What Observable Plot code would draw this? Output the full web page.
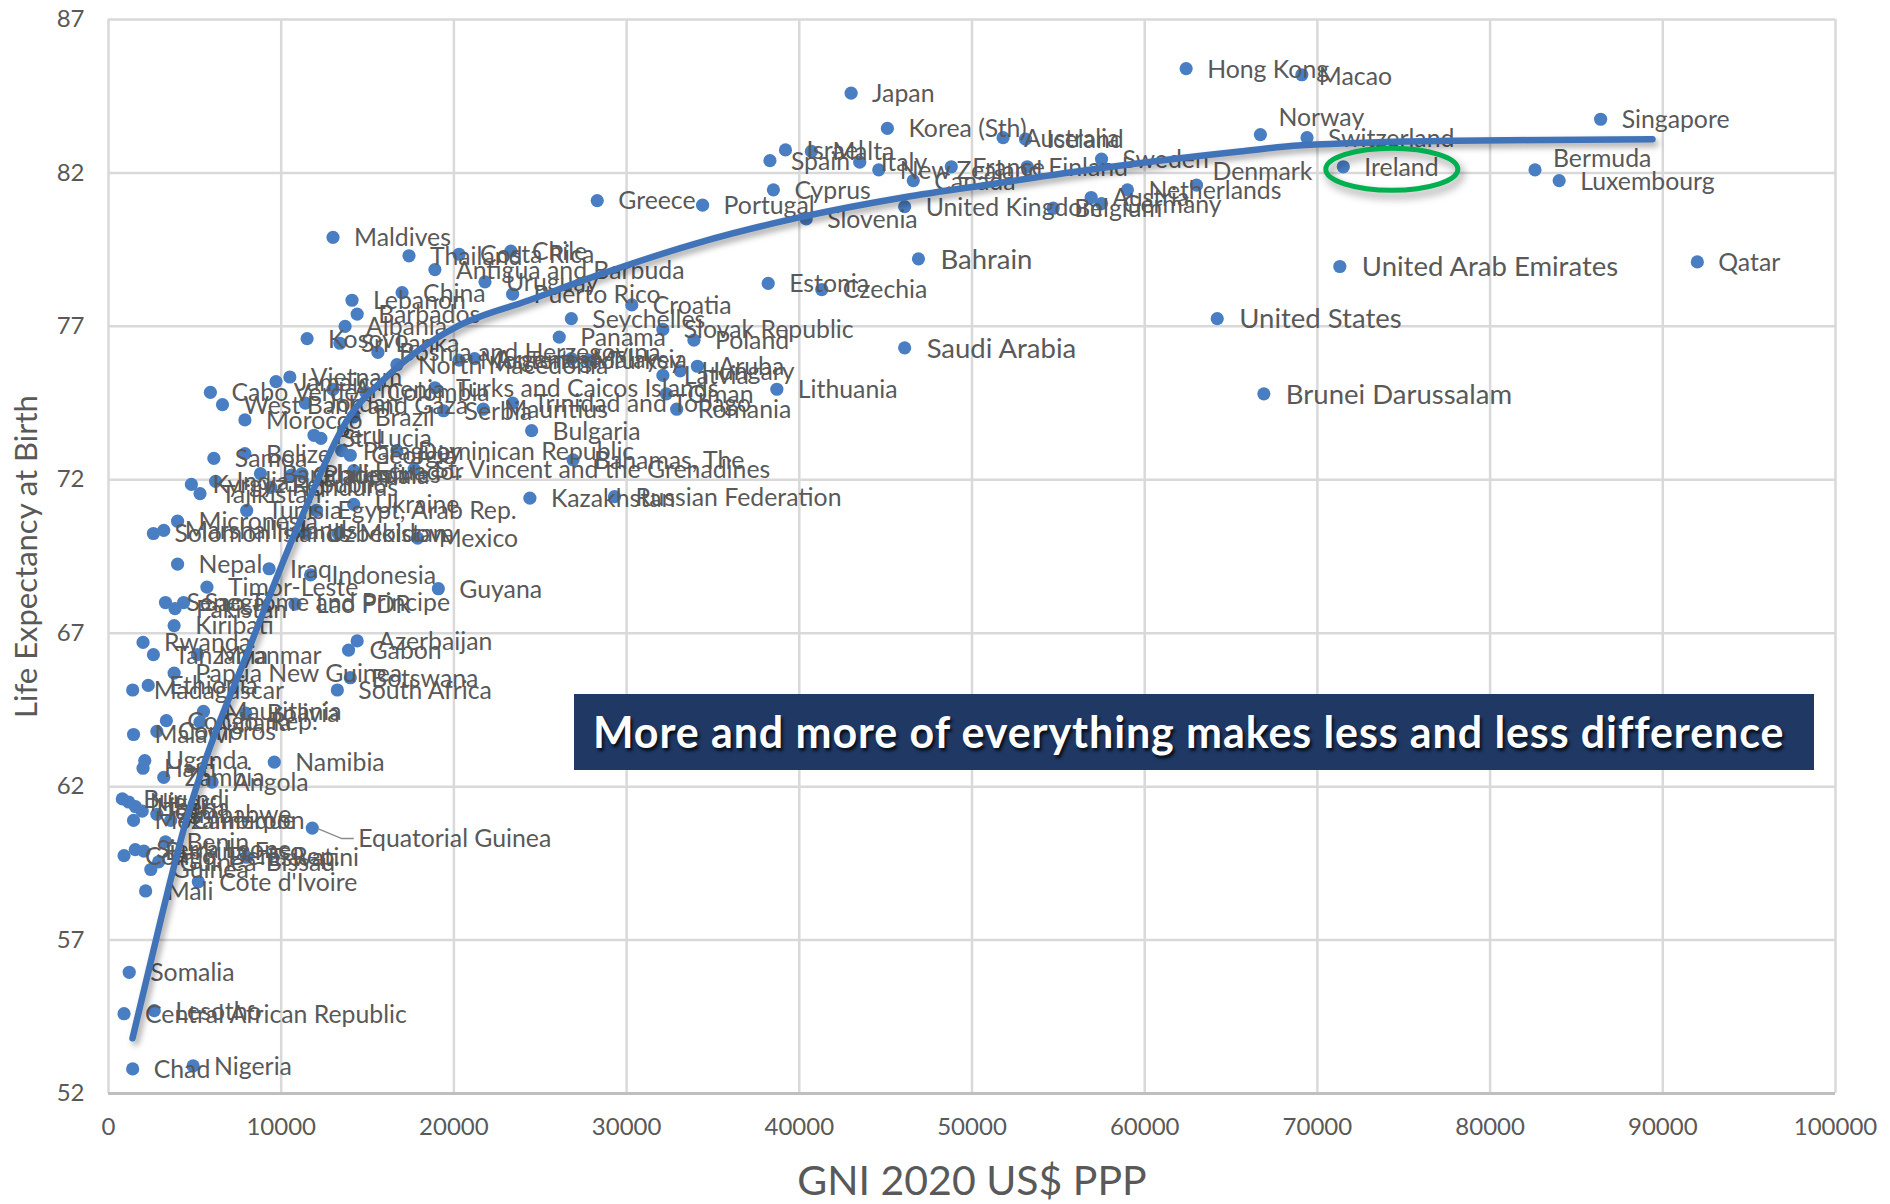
<!DOCTYPE html>
<html><head><meta charset="utf-8">
<script src="https://cdn.jsdelivr.net/npm/d3@7"></script>
<script src="https://cdn.jsdelivr.net/npm/@observablehq/plot@0.6"></script>
<style>
 body{margin:0;background:#fff;}
 #wrap{position:relative;width:1890px;height:1204px;overflow:hidden;}
 #wrap svg g[aria-label="line"]{filter:drop-shadow(3px 4px 3px rgba(0,0,0,0.35));}
 #note{position:absolute;left:574px;top:694px;width:1240px;height:76px;background:#1f3864;color:#fff;font-family:Lato,"Open Sans",sans-serif;font-weight:700;font-size:43px;letter-spacing:0.9px;line-height:76px;padding-left:19px;box-sizing:border-box;text-shadow:2px 3px 3px rgba(0,0,0,0.75);white-space:nowrap;}
</style></head>
<body><div id="wrap"></div>
<script>
const countries = ["Japan","Korea (Sth)","Australia","Iceland","Israel","Malta","Spain","Italy","New Zealand","Canada","France","Finland","Sweden","Cyprus","Portugal","Greece","Slovenia","United Kingdom","Belgium","Austria","Germany","Netherlands","Denmark","Hong Kong","Macao","Norway","Switzerland","Ireland","Singapore","Bermuda","Luxembourg","United Arab Emirates","Qatar","United States","Brunei Darussalam","Bahrain","Estonia","Czechia","Saudi Arabia","Slovak Republic","Poland","Croatia","Seychelles","Panama","Aruba","Hungary","Latvia","Lithuania","Oman","Romania","Puerto Rico","Uruguay","Antigua and Barbuda","Thailand","Costa Rica","Chile","China","Maldives","Lebanon","Barbados","Albania","Kosovo","Sri Lanka","Bosnia and Herzegovina","North Macedonia","Montenegro","Argentina","Malaysia","Turkey","Turks and Caicos Islands","Serbia","Mauritius","Trinidad and Tobago","Bulgaria","Kazakhstan","Russian Federation","Bahamas, The","Dominican Republic","St. Vincent and the Grenadines","Cabo Verde","West Bank and Gaza","Morocco","Jamaica","Vietnam","Jordan","Colombia","Armenia","Brazil","St. Lucia","Peru","Paraguay","Belize","Samoa","Georgia","Ecuador","India","Kyrgyz Republic","Tajikistan","Bangladesh","Honduras","Guatemala","Philippines","Tunisia","Egypt, Arab Rep.","Ukraine","Moldova","Mexico","Solomon Islands","Marshall Islands","Micronesia","Uzbekistan","Nepal","Iraq","Indonesia","Guyana","Timor-Leste","Senegal","Sao Tome and Principe","Lao PDR","Pakistan","Kiribati","Rwanda","Tanzania","Myanmar","Papua New Guinea","Azerbaijan","Gabon","Botswana","South Africa","Madagascar","Ethiopia","Malawi","Comoros","Congo, Rep.","Mauritania","Ghana","Bolivia","Uganda","Haiti","Zambia","Namibia","Angola","Burundi","Niger","Liberia","Togo","Zimbabwe","Mozambique","Cameroon","Equatorial Guinea","Benin","Guinea-Bissau","Congo, Dem. Rep.","Sierra Leone","Burkina Faso","Eswatini","Guinea","Cote d'Ivoire","Mali","Somalia","Lesotho","Central African Republic","Chad","Nigeria"];
const gni = [43000,45100,51800,53100,39200,40700,38300,43500,44600,46600,48800,53200,57500,38500,34400,28300,40400,46100,54700,56900,57500,59000,63000,62400,69100,66700,69400,71500,86400,82600,84000,71300,92000,64200,66900,46900,38200,41300,46100,32100,33900,30300,26800,26100,34100,33100,32100,38700,32300,32900,23400,21800,18900,17400,20300,23300,17000,13000,14100,14400,13700,11500,13400,15600,16700,20300,21200,26800,27800,18900,19400,21700,23400,24500,24400,29300,26900,16700,17700,5900,6600,7900,9700,10500,11400,14900,13000,14200,12300,11900,13500,7900,6100,14000,14200,6200,4800,5300,8800,9400,10600,11200,8000,12050,14200,13300,17900,2600,3200,4000,11400,4000,9300,11700,19100,5700,3300,4350,10800,3850,3800,2000,2600,5150,3800,14400,13900,14000,13250,1400,2300,1450,2800,3350,5500,5300,7950,2100,2000,3200,9600,6000,800,1170,1560,1950,2800,1450,3600,11800,3300,2900,900,1550,2050,8000,2450,5200,2150,1200,2650,900,1400,4900];
const lifeExp = [84.6,83.45,83.15,83.1,82.75,82.7,82.4,82.35,82.1,81.75,82.2,82.2,82.45,81.45,80.95,81.1,80.5,80.9,80.85,81.2,81.0,81.45,81.6,85.4,85.2,83.25,83.15,82.2,83.75,82.1,81.75,78.95,79.1,77.25,74.8,79.2,78.4,78.2,76.3,76.9,76.55,77.7,77.25,76.65,75.7,75.55,75.4,74.95,74.8,74.3,78.05,78.45,78.85,79.3,79.35,79.45,78.1,79.9,77.85,77.4,77.0,76.6,76.45,76.15,75.75,75.9,75.95,75.95,75.9,75.0,74.25,74.3,74.5,73.6,71.4,71.45,72.65,72.95,72.35,74.85,74.45,73.95,75.2,75.35,74.5,74.85,74.95,74.05,73.35,73.45,72.95,72.85,72.7,72.8,72.3,71.95,71.85,71.55,72.2,71.75,72.15,72.2,71.0,71.0,71.2,70.25,70.1,70.25,70.35,70.65,70.25,69.25,69.1,68.9,68.45,68.5,68.0,68.0,67.95,67.8,67.25,66.7,66.3,66.3,65.7,66.75,66.45,65.55,65.15,65.15,65.3,63.7,63.8,64.15,64.45,64.1,64.4,62.85,62.6,62.3,62.8,62.15,61.6,61.5,61.35,61.2,61.1,60.9,60.9,60.65,60.2,59.55,59.75,59.95,59.9,59.7,59.3,58.9,58.6,55.95,54.7,54.6,52.8,52.9];

// Trendline
const trendGNI = [1390,3000,4500,5330,8000,11120,14000,16000,18150,20200,24350,28500,34000,40000,46000,51300,57400,65500,69100,78000,89400];
const trendLE  = [53.8,57.6,60.9,62.4,66.3,70.7,74.1,75.3,76.3,77.0,77.85,78.7,79.7,80.55,81.2,81.65,82.15,82.7,82.9,83.05,83.1];

const xTicks = [0,10000,20000,30000,40000,50000,60000,70000,80000,90000,100000];
const yTicks = [52,57,62,67,72,77,82,87];
const xTitle = "GNI 2020 US$ PPP";
const yTitle = "Life Expectancy at Birth";
const noteText = "More and more of everything makes less and less difference";
const highlight = "Ireland";

const data = countries.map((c, i) => ({name: c, gni: gni[i], le: lifeExp[i]}));
const trend = trendGNI.map((g, i) => ({gni: g, le: trendLE[i]}));

// label placement exceptions (px offsets)
const labelOffsets = {"Norway": [18, -17], "Denmark": [16, -13], "Bermuda": [18, -11], "Macao": [17, 2], "Equatorial Guinea": [46, 11]};
// labels that appear in a larger type in the reference
const bigLabels = ["Saudi Arabia", "Bahrain", "United Arab Emirates", "United States", "Brunei Darussalam"];
const normal = data.filter(d => !(d.name in labelOffsets) && !bigLabels.includes(d.name));
const big = data.filter(d => bigLabels.includes(d.name));

const textColor = "#595959";
const dotColor = "#4a7ec2";
const labelFont = 24.8;

const specialLabels = Object.entries(labelOffsets).map(([n, [dx, dy]]) =>
  Plot.text(data.filter(d => d.name === n), {x: "gni", y: "le", text: "name", dx, dy, textAnchor: "start", fill: textColor, fontSize: labelFont}));

const hi = data.find(d => d.name === highlight);
const eg = data.find(d => d.name === "Equatorial Guinea");

function extras(index, scales) {
  const g = d3.create("svg:g");
  const ex = scales.x(eg.gni), ey = scales.y(eg.le);
  g.append("path").attr("d", `M${ex + 6},${ey + 1} L${ex + 30},${ey + 11} L${ex + 42},${ey + 11}`)
    .attr("fill", "none").attr("stroke", "#8c8c8c").attr("stroke-width", 1.5);
  const ix = scales.x(hi.gni), iy = scales.y(hi.le);
  g.append("ellipse").attr("cx", ix + 49).attr("cy", iy + 3).attr("rx", 66).attr("ry", 21)
    .attr("fill", "none").attr("stroke", "#00b050").attr("stroke-width", 5)
    .style("filter", "drop-shadow(3px 5px 4px rgba(0,0,0,0.4))");
  return g.node();
}

const chart = Plot.plot({
  width: 1890,
  height: 1204,
  marginLeft: 108,
  marginRight: 55,
  marginTop: 19,
  marginBottom: 111,
  x: {domain: [0, 100000], ticks: xTicks, tickFormat: d => String(d), tickSize: 0, tickPadding: 24, label: null},
  y: {domain: [52, 87], ticks: yTicks, tickSize: 0, tickPadding: 24, label: null},
  style: {fontFamily: "Lato, 'Open Sans', sans-serif", fontSize: "24px", color: textColor, background: "#fff", overflow: "visible"},
  marks: [
    Plot.ruleX(xTicks, {stroke: "#d9d9d9", strokeWidth: 2.5}),
    Plot.ruleY(yTicks, {stroke: "#d9d9d9", strokeWidth: 2.5}),
    Plot.ruleY([52], {stroke: "#bfbfbf", strokeWidth: 3}),
    Plot.dot(data, {x: "gni", y: "le", r: 6.6, fill: dotColor, stroke: "none"}),
    Plot.text(normal, {x: "gni", y: "le", text: "name", dx: 21, dy: 1, textAnchor: "start", fill: textColor, fontSize: labelFont}),
    Plot.text(big, {x: "gni", y: "le", text: "name", dx: 22, dy: 1, textAnchor: "start", fill: textColor, fontSize: 27.5}),
    ...specialLabels,
    Plot.line(trend, {x: "gni", y: "le", curve: "monotone-x", stroke: "#4173b8", strokeWidth: 6.5, strokeLinecap: "round"}),
    extras,
    Plot.text([yTitle], {text: d => d, frameAnchor: "left", dx: -81, rotate: -90, textAnchor: "middle", lineAnchor: "middle", fontSize: 31, fill: textColor}),
    Plot.text([xTitle], {text: d => d, frameAnchor: "bottom", dy: 88, textAnchor: "middle", lineAnchor: "middle", fontSize: 41, fill: textColor})
  ]
});

const wrap = document.getElementById("wrap");
wrap.appendChild(chart);
const note = document.createElement("div");
note.id = "note";
note.textContent = noteText;
wrap.appendChild(note);
</script>
</body></html>
